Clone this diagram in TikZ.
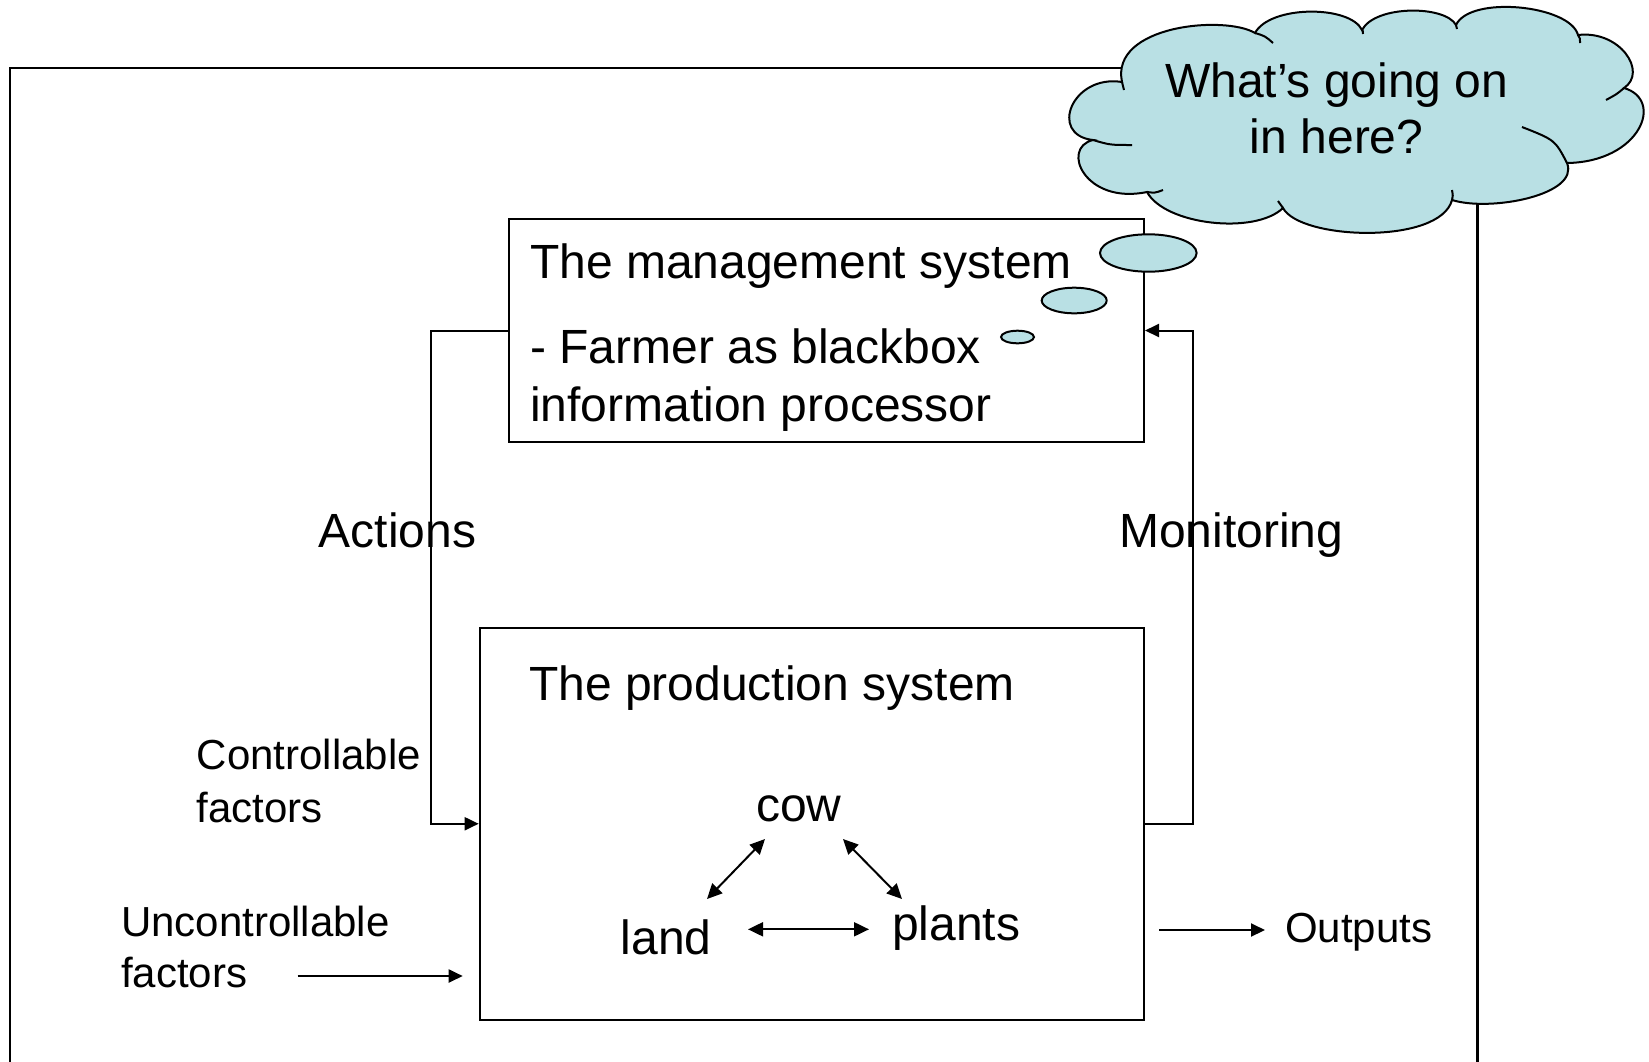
\documentclass[tikz,border=0pt]{standalone}
\usepackage{fontspec}
\setmainfont{Liberation Sans}
\usetikzlibrary{arrows.meta}
\definecolor{cloudblue}{RGB}{185,224,228}
\begin{document}
\begin{tikzpicture}[x=1pt,y=-1pt,
  box/.style={draw, line width=2pt, inner sep=0pt},
  big/.style={font=\fontsize{48}{58}\selectfont, inner sep=0pt, anchor=base west},
  small/.style={font=\fontsize{42}{50}\selectfont, inner sep=0pt, anchor=base west},
  conn/.style={line width=2pt, -{Triangle[length=14pt,width=13pt]}},
  dconn/.style={line width=2pt, {Triangle[length=15pt,width=14pt]}-{Triangle[length=15pt,width=14pt]}},
  bubble/.style={draw, fill=cloudblue, line width=2pt},
  hook/.style={line width=2pt}]
\useasboundingbox (0,0) rectangle (1649,1061);
% outer frame
\draw[line width=2.4pt] (10,1070) -- (10,67.7) -- (1477.6,67.7) -- (1477.6,1070);
% cloud
\filldraw[bubble] (1122,82)
 .. controls (1072,74) and (1048,135) .. (1093,140)
 .. controls (1060,148) and (1085,205) .. (1147,192)
 .. controls (1165,225) and (1255,235) .. (1283,208)
 .. controls (1300,240) and (1440,245) .. (1452,200)
 .. controls (1490,212) and (1580,195) .. (1567,163)
 .. controls (1640,162) and (1665,100) .. (1624,88)
 .. controls (1648,72) and (1620,30) .. (1578,35)
 .. controls (1570,5) and (1470,-5) .. (1456,25)
 .. controls (1445,5) and (1375,5) .. (1362,30)
 .. controls (1350,5) and (1270,5) .. (1255,33)
 .. controls (1225,15) and (1110,25) .. cycle;
\draw[hook] (1122,82) .. controls (1123,86) .. (1124,90);
\draw[hook] (1255,33) .. controls (1265,36) .. (1273,43);
\draw[hook] (1093,140) .. controls (1110,145) .. (1132,145);
\draw[hook] (1147,192) .. controls (1155,193) .. (1163,190);
\draw[hook] (1283,208) .. controls (1280,205) .. (1278,201);
\draw[hook] (1362,30) .. controls (1363,31) .. (1363,34);
\draw[hook] (1456,25) -- (1457,29);
\draw[hook] (1578,35) .. controls (1580,38) .. (1580,43);
\draw[hook] (1624,88) .. controls (1617,94) .. (1606,100);
\draw[hook] (1567,163) .. controls (1555,140) .. (1522,127);
\draw[hook] (1452,200) .. controls (1453,196) .. (1452,190);
\node[big, anchor=base] (q1) at (1336.7,97.8) {What’s going on};
\node[big, anchor=base] (q2) at (1336.7,153.5) {in here?};
% boxes
\node[box, minimum width=635pt, minimum height=223pt] (mgmt) at (826.5,330.5) {};
\node[box, minimum width=664.7pt, minimum height=392.5pt] (prod) at (812,823.75) {};
% thought bubbles
\filldraw[bubble] (1148.3,253) ellipse [x radius=48.3, y radius=18.7];
\filldraw[bubble] (1074.2,300.5) ellipse [x radius=32.5, y radius=12.8];
\filldraw[bubble] (1017.5,337) ellipse [x radius=16.5, y radius=6.3];
% texts in management box
\node[big] (mt) at (530,278.5) {The management system};
\node[big] (m2) at (530,363.5) {- Farmer as blackbox};
\node[big] (m3) at (530,421.5) {information processor};
% labels
\node[big] (act) at (318.7,547) {Actions};
\node[big] (mon) at (1119,547) {Monitoring};
\node[big] (pt) at (529,700) {The production system};
\node[small] (c1) at (196.7,769.5) {Controllable};
\node[small] (c2) at (196.7,822) {factors};
\node[small] (u1) at (121,936) {Uncontrollable};
\node[small] (u2) at (121,987) {factors};
\node[small] (out) at (1285,942) {Outputs};
\node[big] (cow) at (756,821) {cow};
\node[big] (land) at (620.5,954) {land};
\node[big] (plants) at (892,940) {plants};
% connectors
\draw[conn] (mgmt.west) -- ++(-77.5,0) |- (prod.west);
\draw[conn] (prod.east) -- ++(47.7,0) |- (mgmt.east);
\coordinate (uS) at (297.6,976);
\coordinate (uE) at (462.7,976);
\draw[conn] (uS) -- (uE);
\coordinate (oS) at (1159,930);
\coordinate (oE) at (1265,930);
\draw[conn] (oS) -- (oE);
\coordinate (cwL) at (765,839);
\coordinate (lnC) at (707,899);
\coordinate (cwR) at (843,839);
\coordinate (plC) at (902,899);
\coordinate (lnR) at (748,929.3);
\coordinate (plL) at (869,929.3);
\draw[dconn] (cwL) -- (lnC);
\draw[dconn] (cwR) -- (plC);
\draw[dconn] (lnR) -- (plL);
\end{tikzpicture}
\end{document}
